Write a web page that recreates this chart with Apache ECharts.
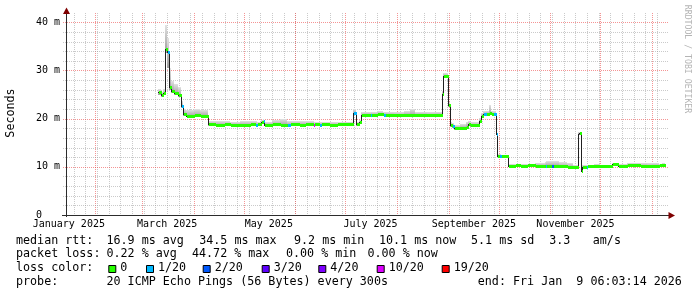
<!DOCTYPE html>
<html><head><meta charset="utf-8">
<script src="https://cdn.jsdelivr.net/npm/echarts@6/dist/echarts.min.js"></script>
<style>html,body{margin:0;padding:0;background:#fff;}#c{width:697px;height:297px;}</style>
</head><body><div id="c"></div>
<script>
// ---- axis / time window (x = days since 2025-01-01, 360-day window ending Jan 9 2026) ----
const X_MIN = 13.5, X_MAX = 373.5;
const Y_MAX = 41.5;                       // milliseconds
const monthStarts = [31, 59, 90, 120, 151, 181, 212, 243, 273, 304, 334, 365];
const firstSunday = 18;                   // 2025-01-19
const labelDays  = [15.2, 74.2, 135.2, 196.2, 258.2, 319.2];
const labelTexts = ['January 2025', 'March 2025', 'May 2025', 'July 2025', 'September 2025', 'November 2025'];
const yMajor = [10, 20, 30, 40];
const yMinorStep = 2;

// ---- data: step segments (start day, median ms, loss level, smoke low/high ms) ----
const segStart = [68.9,70.3,71.7,72.9,74.1,75.0,76.5,78.3,80.4,82.5,83.7,85.5,90,94,
  98.9,103,108,112,118,124,126.6,127.8,130.5,131.4,132.3,137,142,146.2,148,153,157,161.4,162.2,165.3,166.5,171,176,181,
  185.9,187.7,189.5,190.7,192,195.6,196.6,200,203.6,204.6,210,216,220,223,230,235,
  238.9,239.7,242.8,243.8,245,246.2,250,253.5,254.5,256,261.5,262.5,263.6,265.2,267.5,268.6,269.6,271.2,271.9,273.3,274.4,
  278.9,283,286,290,295,300.6,301.6,304.5,305.5,309,314,317.5,320.5,321.5,322.3,323.2,325.5,326.3,330,334,341,344.5,350,358,362,365,369,371];
const dataEnd = 373;
const segMedian = [25.5,25.0,25.4,34.4,33.8,26.6,25.8,25.3,24.9,22.6,20.9,20.6,20.7,20.6,
  18.8,18.7,18.8,18.7,18.7,18.8,18.7,18.8,19.2,19.5,18.7,18.8,18.7,18.7,18.8,18.7,18.9,18.7,18.8,18.7,18.8,18.7,18.8,18.9,
  21.1,18.8,19.2,20.7,20.8,20.7,20.8,20.9,20.8,20.8,20.7,20.8,20.8,20.8,20.7,20.8,
  25.2,28.8,22.8,18.6,18.4,18.0,18.1,18.3,18.8,18.6,19.6,20.6,20.9,21.0,21.1,21.0,20.9,16.9,12.3,12.3,12.2,
  10.2,10.3,10.2,10.3,10.25,10.2,10.2,10.2,10.2,10.1,10.0,10.0,16.9,17.0,9.2,10.0,10.0,10.1,10.2,10.1,10.5,10.2,10.4,10.2,10.1,10.2,10.3,10.4];
// loss level index into lossColors (-1 = no marker)
const segLoss = [0,0,0,0,1,0,0,0,0,1,0,0,0,0,
  0,0,0,0,0,0,1,0,0,1,0,0,0,1,0,0,0,5,0,1,0,0,0,0,
  1,0,0,0,0,1,0,0,1,0,0,0,0,0,0,0,
  0,0,0,0,1,0,0,0,0,0,0,0,1,0,0,0,1,1,0,1,0,
  0,0,0,0,0,1,0,2,0,0,0,0,-1,0,0,0,1,0,0,0,0,0,0,0,0,0,0,0];
const smokeLow = [24.9,24.4,24.8,33.6,30.5,26.0,25.3,24.9,24.5,22.2,20.5,20.3,20.3,20.3,
  18.5,18.4,18.5,18.4,18.4,18.5,18.4,18.5,18.9,19.0,18.4,18.5,18.4,18.4,18.5,18.4,18.5,18.4,18.5,18.4,18.5,18.4,18.5,18.6,
  20.7,18.5,18.9,20.4,20.5,20.4,20.5,20.6,20.5,20.5,20.4,20.5,20.5,20.5,20.4,20.5,
  24.8,28.4,22.4,18.2,18.0,17.7,17.8,18.0,18.5,18.3,19.3,20.3,20.6,20.7,20.8,20.7,20.6,16.6,12.0,12.0,11.9,
  9.9,10.0,9.9,10.0,9.95,9.9,9.9,9.9,9.9,9.8,9.7,9.7,16.6,16.7,8.9,9.7,9.7,9.8,9.9,9.8,10.2,9.9,10.1,9.9,9.8,9.9,10.0,10.1];
const smokeHigh = [26.1,25.6,26.2,39.4,36.8,30.6,27.8,27.2,26.6,23.6,22.0,21.8,21.9,21.8,
  19.6,19.5,19.6,19.4,19.5,19.5,19.5,19.4,19.7,20.0,19.4,19.8,19.9,19.6,19.5,19.5,19.6,19.5,19.4,19.4,19.4,19.3,19.4,19.4,
  21.9,19.3,19.7,21.3,21.4,21.4,21.4,21.5,21.4,21.4,21.4,21.5,22.0,21.4,21.4,21.4,
  25.8,29.5,23.4,19.2,19.0,18.7,18.8,19.2,19.6,19.4,20.2,21.2,21.6,21.6,22.8,21.6,21.5,17.2,12.6,12.6,12.5,
  10.5,10.6,10.5,10.6,10.7,11.1,11.2,11.2,11.2,11.0,10.8,10.3,17.2,17.3,9.5,10.3,10.3,10.4,10.5,10.4,10.8,10.5,10.7,10.7,10.7,10.7,10.6,10.7];

const lossColors = ['#26ff00', '#00b8ff', '#0059ff', '#5e00ff', '#7e00ff', '#dd00ff', '#ff0000'];
const lossLabels = ['0', '1/20', '2/20', '3/20', '4/20', '10/20', '19/20'];

// legend text pieces
const rttLine  = [['median rtt:', 16], ['16.9 ms avg', 106.5], ['34.5 ms max', 199.2], ['9.2 ms min', 294], ['10.1 ms now', 379], ['5.1 ms sd', 471], ['3.3', 549.2], ['am/s', 592.8]];
const lossLine = [['packet loss:', 16], ['0.22 % avg', 106.5], ['44.72 % max', 192], ['0.00 % min', 286], ['0.00 % now', 367.5]];
const probeLine = [['probe:', 16], ['20 ICMP Echo Pings (56 Bytes) every 300s', 106.5], ['end: Fri Jan  9 06:03:14 2026', 477.8]];
const legendBoxX = [108.3, 146, 202.7, 261.7, 318.3, 376.7, 441.7];

// ---- build series data ----
const segs = segStart.map((s, i) => {
  const e = i + 1 < segStart.length ? segStart[i + 1] : dataEnd;
  const prev = i > 0 ? segMedian[i - 1] : segMedian[i];
  return [s, e, segMedian[i], prev, segLoss[i], smokeLow[i], smokeHigh[i]];
});
const gridData = [];
for (let d = firstSunday; d < X_MAX; d += 7) gridData.push([d, 0]);
monthStarts.forEach(d => gridData.push([d, 1]));
for (let v = yMinorStep; v < Y_MAX; v += yMinorStep) if (yMajor.indexOf(v) < 0) gridData.push([v, 2]);
yMajor.forEach(v => gridData.push([v, 3]));

const MINOR = 'rgba(150,150,150,0.5)';
const MAJOR = 'rgba(235,60,60,0.55)';
const FONT = '"DejaVu Sans Mono", monospace';

const chart = echarts.init(document.getElementById('c'), null, {renderer: 'canvas', width: 697, height: 297});

const graphics = [];
function txt(t, x, y, extra) {
  graphics.push(Object.assign({type: 'text', z: 100, style: {text: t, x: x, y: y, font: '11.7px ' + FONT, fill: '#000', textVerticalAlign: 'middle'}}, extra || {}));
}
rttLine.forEach(p => txt(p[0], p[1], 240.8));
lossLine.forEach(p => txt(p[0], p[1], 254.4));
txt('loss color:', 16, 268.2);
lossLabels.forEach((l, i) => {
  graphics.push({type: 'rect', z: 100, shape: {x: legendBoxX[i] + 0.5, y: 265.5, width: 7, height: 7}, style: {fill: lossColors[i], stroke: '#000', lineWidth: 1}});
  txt(l, legendBoxX[i] + 12, 268.2);
});
probeLine.forEach(p => txt(p[0], p[1], 282));
// y title
graphics.push({type: 'text', z: 100, x: 10.5, y: 113, rotation: Math.PI / 2, style: {text: 'Seconds', x: 0, y: 0, font: '11.7px ' + FONT, fill: '#000', textAlign: 'center', textVerticalAlign: 'middle'}});
// watermark
graphics.push({type: 'text', z: 100, x: 687.5, y: 59, rotation: -Math.PI / 2, style: {text: 'RRDTOOL / TOBI OETIKER', x: 0, y: 0, font: '8.2px ' + FONT, fill: '#b4b4b4', textAlign: 'center', textVerticalAlign: 'middle'}});
// axis lines and arrows
graphics.push({type: 'line', z: 100, shape: {x1: 66.5, y1: 12, x2: 66.5, y2: 217}, style: {stroke: '#2c2c2c', lineWidth: 1}});
graphics.push({type: 'line', z: 100, shape: {x1: 62, y1: 215.5, x2: 669, y2: 215.5}, style: {stroke: '#2c2c2c', lineWidth: 1}});
graphics.push({type: 'polygon', z: 101, shape: {points: [[66.5, 7.5], [63, 14], [70, 14]]}, style: {fill: '#7f0000'}});
graphics.push({type: 'polygon', z: 101, shape: {points: [[675, 215.5], [668.5, 212], [668.5, 219]]}, style: {fill: '#7f0000'}});

chart.setOption({
  animation: false,
  backgroundColor: '#fff',
  grid: {left: 66, top: 15, width: 600, height: 200},
  xAxis: {
    type: 'value', min: X_MIN, max: X_MAX,
    axisLine: {show: false}, axisTick: {show: false}, splitLine: {show: false},
    axisLabel: {
      customValues: labelDays,
      formatter: v => { let b = 0; labelDays.forEach((d, i) => { if (Math.abs(d - v) < Math.abs(labelDays[b] - v)) b = i; }); return labelTexts[b]; },
      fontFamily: FONT, fontSize: 10, color: '#000', margin: 4
    }
  },
  yAxis: {
    type: 'value', min: 0, max: Y_MAX, interval: 10,
    axisLine: {show: false}, axisTick: {show: false}, splitLine: {show: false},
    axisLabel: {
      showMaxLabel: false,
      formatter: v => (v % 10 !== 0 ? '' : (v === 0 ? '0' : v + ' m')),
      align: 'left', margin: 30, fontFamily: FONT, fontSize: 10, color: '#000'
    }
  },
  graphic: graphics,
  series: [
    {
      type: 'custom', name: 'grid', z: 1, silent: true, data: gridData,
      renderItem: (params, api) => {
        const pos = api.value(0), kind = api.value(1), cs = params.coordSys;
        const col = (kind === 1 || kind === 3) ? MAJOR : MINOR;
        if (kind < 2) {
          const x = Math.round(api.coord([pos, 0])[0]) + 0.5;
          if (x < cs.x + 1 || x > cs.x + cs.width + 2) return null;
          return {type: 'line', shape: {x1: x, y1: cs.y - 2, x2: x, y2: cs.y + cs.height + 2}, style: {stroke: col, lineWidth: 1, lineDash: [1, 1]}};
        }
        const y = Math.round(api.coord([X_MIN, pos])[1]) + 0.5;
        return {type: 'line', shape: {x1: cs.x - 3, y1: y, x2: cs.x + cs.width + 3, y2: y}, style: {stroke: col, lineWidth: 1, lineDash: [1, 1]}};
      }
    },
    {
      type: 'custom', name: 'smoke', z: 2, silent: true, data: segs,
      renderItem: (params, api) => {
        const a = api.coord([api.value(0), api.value(6)]);
        const b = api.coord([api.value(1), api.value(5)]);
        const x0 = Math.round(a[0]), x1 = Math.round(b[0]);
        const y0 = Math.round(a[1]), y1 = Math.round(b[1]);
        return {type: 'rect', shape: {x: x0, y: y0, width: Math.max(1, x1 - x0), height: Math.max(1, y1 - y0)},
          style: {fill: new echarts.graphic.LinearGradient(0, 0, 0, 1, [{offset: 0, color: '#e2e2e2'}, {offset: 1, color: '#9c9c9c'}])}};
      }
    },
    {
      type: 'custom', name: 'median', z: 3, silent: true, data: segs,
      renderItem: (params, api) => {
        const s = api.value(0), e = api.value(1), m = api.value(2), p = api.value(3);
        const x0 = Math.round(api.coord([s, m])[0]), x1 = Math.round(api.coord([e, m])[0]);
        const y = Math.round(api.coord([s, m])[1]) + 0.5;
        const yp = Math.round(api.coord([s, p])[1]) + 0.5;
        const st = {stroke: '#202020', lineWidth: 1};
        return {type: 'group', children: [
          {type: 'line', shape: {x1: x0, y1: y, x2: x1, y2: y}, style: st},
          {type: 'line', shape: {x1: x0 + 0.5, y1: yp, x2: x0 + 0.5, y2: y}, style: st}
        ]};
      }
    },
    {
      type: 'custom', name: 'loss', z: 4, silent: true, data: segs,
      renderItem: (params, api) => {
        const l = api.value(4);
        if (l < 0) return null;
        const a = api.coord([api.value(0), api.value(2)]);
        const b = api.coord([api.value(1), api.value(2)]);
        const x0 = Math.round(a[0]), x1 = Math.round(b[0]);
        const y = Math.round(a[1]) - 1;
        return {type: 'rect', shape: {x: x0 + 1, y: y, width: Math.max(1, x1 - x0), height: 3}, style: {fill: lossColors[l]}};
      }
    }
  ]
});
</script></body></html>
